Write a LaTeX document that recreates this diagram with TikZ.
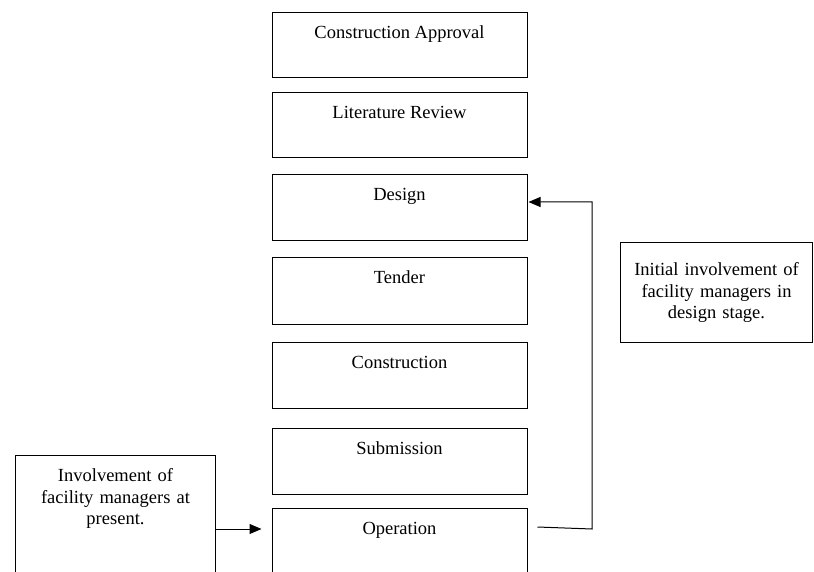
\documentclass[tikz,border=0pt]{standalone}
\usepackage{fontspec}
\setmainfont{Liberation Serif}
\usepackage{tikz}
\usetikzlibrary{arrows.meta}
\usetikzlibrary{positioning}
\tikzstyle{stage} = [draw, line width=1pt, anchor=north, minimum width=255pt, inner xsep=0pt, inner ysep=0pt, text height=26pt, text depth=39pt]
\tikzstyle{note} = [draw, line width=1pt, anchor=north west, align=center, inner xsep=8pt]
\tikzstyle{link} = [line width=1pt, -{Triangle[length=12pt,width=10pt]}]

\begin{document}
\begin{tikzpicture}[x=1pt, y=-1pt, every node/.style={font=\fontsize{18.5pt}{21.5pt}\selectfont}]
            \useasboundingbox (0,0) rectangle (814,572);
            \clip (0,0) rectangle (814,572);

            % Stages
            \node[stage] (approval) at (399.5, 12) {Construction Approval};
            \node[stage] (review) at (399.5, 92) {Literature Review};
            \node[stage, text depth=40pt] (design) at (399.5, 174) {Design};
            \node[stage, text depth=41pt] (tender) at (399.5, 257) {Tender};
            \node[stage, text depth=40pt] (construction) at (399.5, 342) {Construction};
            \node[stage, text depth=40pt] (submission) at (399.5, 428) {Submission};
            \node[stage, text depth=70pt] (operation) at (399.5, 508) {Operation};

            % Notes
            \node[note, text width=184pt, inner ysep=0pt, text height=26pt, text depth=150pt] (present) at (15, 455) {Involvement of\\ facility managers at\\ present.};
            \node[note, text width=176pt, minimum height=100pt] (initial) at (620, 242) {Initial involvement of\\ facility managers in\\ design stage.};

            % Connecting lines
            \coordinate (bend) at (592, 202);
            \coordinate (foot) at (592, 529);
            \draw[link] (present.east |- foot) -- ([xshift=-10pt]operation.west |- foot);
            \draw[link] ([xshift=10pt, yshift=2pt]operation.east |- foot) -- (foot) -- (bend) -- ([xshift=1pt]design.east |- bend);
        \end{tikzpicture}
\end{document}
